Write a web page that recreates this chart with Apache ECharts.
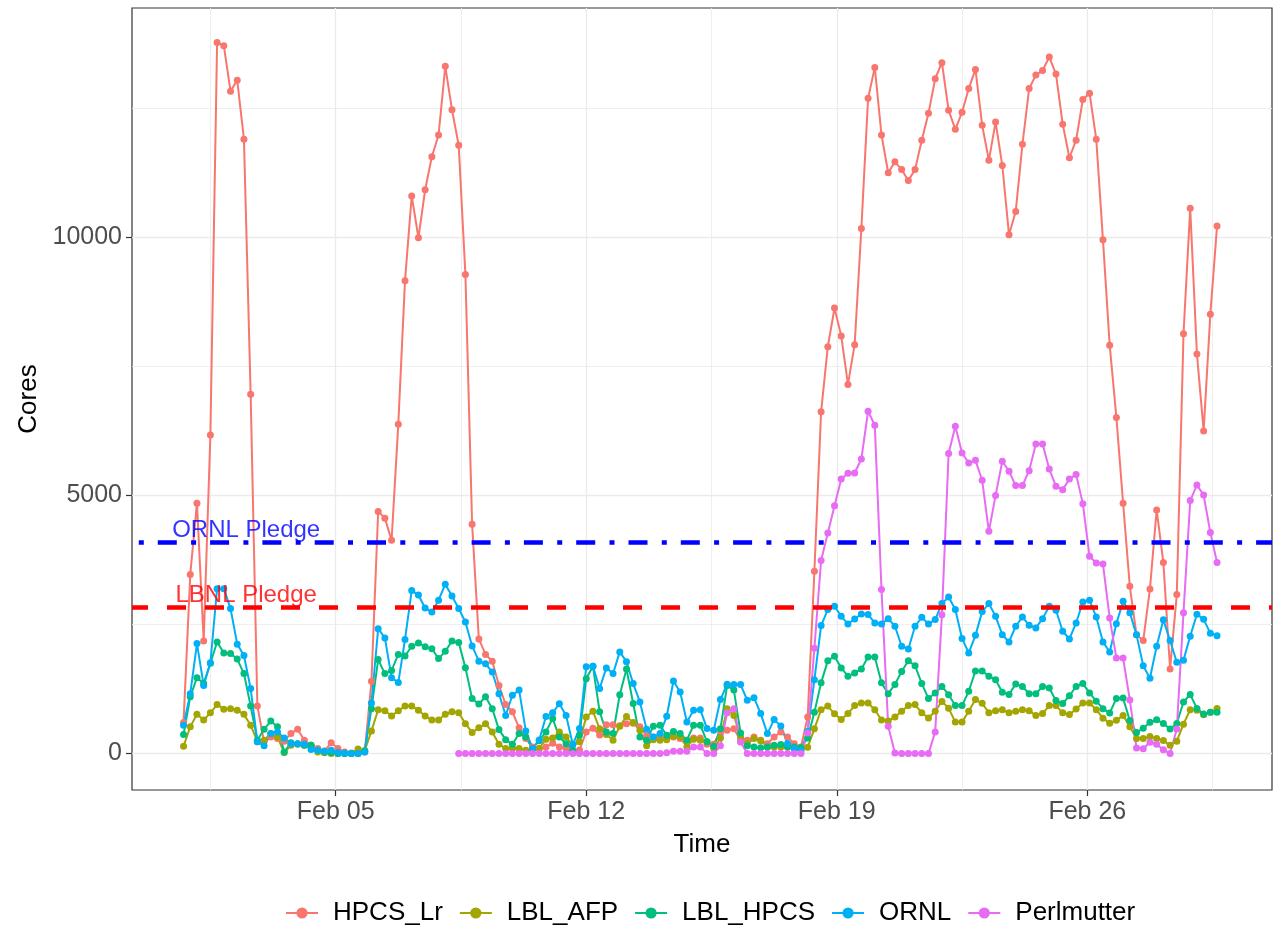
<!DOCTYPE html>
<html><head><meta charset="utf-8">
<script src="https://cdn.jsdelivr.net/npm/echarts@6/dist/echarts.min.js"></script>
<style>html,body{margin:0;padding:0;background:#fff}#c{width:1283px;height:927px}</style>
</head><body><div id="c"></div>
<script>
// time grid: day-of-February units (Feb 1 00:00 = 1), first sample Jan 31 18:00, every 4.5 h
const startDay = 0.75;
const stepHours = 4.5;
const nPoints = 155;
const majorDays = [5, 12, 19, 26];
const majorLabels = ['Feb 05', 'Feb 12', 'Feb 19', 'Feb 26'];
const minorDays = [1.5, 8.5, 15.5, 22.5, 29.5];
const yMajor = [0, 5000, 10000];
const yMinor = [2500, 7500, 12500];

const seriesNames = ['HPCS_Lr', 'LBL_AFP', 'LBL_HPCS', 'ORNL', 'Perlmutter'];

const HPCS_Lr = [600,3470,4850,2180,6170,13770,13710,12830,13040,11900,6960,920,230,320,290,240,390,470,260,160,
100,50,210,100,30,0,0,30,1400,4690,4560,4130,6380,9160,10800,9990,10920,11560,11980,13310,
12470,11780,9280,4440,2220,1920,1790,1320,950,810,500,290,130,100,130,200,130,100,30,70,
420,490,360,560,560,540,580,590,520,340,320,300,300,320,290,260,300,300,180,180,
440,450,480,260,260,320,260,190,320,420,320,190,130,710,3530,6620,7880,8630,8090,7150,
7920,10170,12690,13290,11980,11250,11460,11310,11100,11310,11880,12400,13070,13380,12460,12090,12420,12880,13250,12170,
11490,12230,11390,10050,10500,11800,12880,13140,13230,13490,13160,12190,11540,11880,12670,12790,11900,9950,7910,6510,
4850,3240,2300,2190,3190,4720,3700,1640,3080,8130,10560,7740,6250,8510,10220];

const LBL_AFP = [140,520,760,650,790,950,860,870,840,760,550,230,260,390,320,20,160,180,160,160,
30,15,0,0,0,10,90,60,440,850,830,730,830,920,920,840,730,650,650,760,
810,790,580,410,500,580,420,180,100,100,100,65,80,100,280,300,420,320,170,230,
710,820,480,370,260,530,720,600,450,150,270,260,270,340,320,130,280,260,230,100,
300,870,740,320,190,290,250,130,130,130,130,100,80,125,480,850,920,770,660,775,
930,980,980,850,650,630,710,820,930,950,790,690,820,1010,880,610,610,820,1046,975,
790,830,850,790,820,850,830,740,775,930,930,790,755,865,980,980,850,685,590,645,
740,520,290,290,330,290,255,160,240,570,850,840,750,800,875];

const LBL_HPCS = [370,1100,1470,1360,1750,2160,1950,1940,1830,1550,920,260,470,630,520,30,210,190,160,160,
65,30,20,0,0,0,0,50,870,1820,1550,1610,1920,1890,2080,2140,2070,2030,1840,1980,
2180,2150,1665,1065,960,1100,870,465,270,180,390,320,100,250,420,680,320,190,65,355,
1450,1690,810,420,390,1140,1640,970,320,260,530,550,355,430,390,260,550,550,230,140,
480,1320,1230,400,150,130,115,130,160,175,130,130,120,300,800,1370,1800,1885,1660,1500,
1560,1640,1870,1870,1370,1160,1340,1590,1800,1700,1360,1065,1175,1300,1140,930,930,1207,1600,1600,
1500,1430,1190,1143,1350,1300,1160,1160,1300,1270,1026,968,1120,1300,1356,1175,1015,870,785,1068,
1075,640,410,490,605,655,585,475,585,1000,1145,875,765,800,800];

const ORNL = [550,1160,2130,1320,1760,3195,3195,2810,2120,1900,1260,230,150,390,420,300,190,190,180,80,
65,45,65,20,13,0,0,30,980,2420,2240,1470,1375,2210,3160,3070,2820,2740,2970,3280,
3050,2810,2550,2085,1790,1740,1580,1160,740,1130,1230,440,100,265,720,790,965,740,175,485,
1680,1690,1260,1660,1550,1970,1780,1356,1000,470,323,387,723,1407,1194,613,840,850,484,452,
1046,1343,1336,1336,1033,1084,775,387,658,536,194,97,52,430,1430,2480,2790,2853,2659,2511,
2608,2705,2692,2530,2511,2614,2466,2078,2027,2466,2640,2511,2595,2905,3034,2789,2230,1949,2290,2750,
2905,2659,2304,2162,2466,2647,2485,2434,2614,2853,2776,2369,2220,2530,2937,2969,2647,2162,1969,2517,
2950,2730,2300,1700,1460,2080,2590,2190,1770,1810,2275,2700,2600,2333,2281];

const Perlmutter = [null,null,null,null,null,null,null,null,null,null,null,null,null,null,null,null,null,null,null,null,
null,null,null,null,null,null,null,null,null,null,null,null,null,null,null,null,null,null,null,null,
null,0,0,0,0,0,0,0,0,0,0,0,0,0,0,0,0,0,0,0,
0,0,0,0,0,0,0,0,0,0,0,0,15,45,45,45,130,130,0,0,
150,790,870,225,0,0,0,0,0,0,0,0,0,400,2040,3740,4270,4800,5320,5430,
5435,5706,6630,6360,3176,530,13,0,0,0,0,0,420,2690,5810,6340,5822,5629,5680,5293,
4305,5000,5661,5467,5190,5190,5480,5997,5997,5512,5177,5112,5319,5403,4841,3821,3690,3670,2627,1850,
1850,1040,110,95,220,180,75,0,475,2730,4900,5200,5008,4280,3700];

const ornlPledge = 4100;
const lbnlPledge = 2830;
const pledgeLabelDay = 2.5;

const colors = ['#F8766D', '#A3A500', '#00BF7D', '#00B0F6', '#E76BF3'];
const values = [HPCS_Lr, LBL_AFP, LBL_HPCS, ORNL, Perlmutter];
const times = [];
for (let i = 0; i < nPoints; i++) times.push(startDay + i * stepHours / 24);

const FONT = '"Liberation Sans", Arial, Helvetica, sans-serif';
const xMin = -0.69, xMax = 31.16, yMin = -705, yMax = 14440;

const series = seriesNames.map((name, k) => ({
  name: name,
  type: 'line',
  xAxisIndex: 0, yAxisIndex: 0,
  data: times.map((t, i) => values[k][i] == null ? null : [t, values[k][i]]).filter(d => d),
  symbol: 'circle', symbolSize: 7, showSymbol: true,
  lineStyle: { width: 2, color: colors[k] },
  itemStyle: { color: colors[k] },
  emphasis: { disabled: true },
  silent: true,
  z: 2
}));

series.push({
  name: 'pledges', type: 'line', data: [], xAxisIndex: 0, yAxisIndex: 0, silent: true, z: 5,
  markLine: {
    symbol: 'none', silent: true, animation: false, label: { show: false },
    data: [
      { yAxis: ornlPledge, lineStyle: { color: '#0000FF', width: 4.5, type: [5, 14, 19, 14.3], dashOffset: 45.5 } },
      { yAxis: lbnlPledge, lineStyle: { color: '#FF0000', width: 4.5, type: [19, 19], dashOffset: 3 } }
    ]
  }
});
series.push({
  name: 'pledgeLabels', type: 'scatter', xAxisIndex: 0, yAxisIndex: 0, symbolSize: 0, silent: true, z: 6,
  data: [
    { value: [pledgeLabelDay, ornlPledge], name: 'ORNL Pledge', label: { color: '#0000FF' } },
    { value: [pledgeLabelDay, lbnlPledge], name: 'LBNL Pledge', label: { color: '#FF0000' } }
  ],
  label: { show: true, position: 'top', distance: 0, fontSize: 24, fontFamily: FONT, formatter: p => p.name }
});

const axisCommonX = { type: 'value', min: xMin, max: xMax, axisLine: { show: false, onZero: false } };
const axisCommonY = { type: 'value', min: yMin, max: yMax, axisLine: { show: false, onZero: false } };

const option = {
  animation: false,
  textStyle: { fontFamily: FONT },
  grid: { left: 132, right: 11, top: 8, bottom: 137, show: true, borderColor: '#333333', borderWidth: 1.2, backgroundColor: 'transparent' },
  legend: {
    data: seriesNames, top: 895, left: 280, itemWidth: 32, itemHeight: 14, itemGap: 16,
    textStyle: { fontSize: 26, color: '#000', fontFamily: FONT, padding: [0, 0, 0, 10] }
  },
  xAxis: [
    Object.assign({}, axisCommonX, {
      name: 'Time', nameLocation: 'middle', nameGap: 42,
      nameTextStyle: { fontSize: 26, color: '#000', fontFamily: FONT },
      axisTick: { show: true, customValues: majorDays, length: 6, lineStyle: { color: '#333333', width: 1.2 } },
      axisLabel: { customValues: majorDays, fontSize: 25, color: '#4D4D4D', margin: 10,
        formatter: v => { const j = majorDays.indexOf(v); return j >= 0 ? majorLabels[j] : ''; } },
      splitLine: { show: true, lineStyle: { color: '#EBEBEB', width: 1.3 } }
    }),
    Object.assign({}, axisCommonX, {
      position: 'bottom',
      axisTick: { show: false, customValues: minorDays },
      axisLabel: { show: false, customValues: minorDays },
      splitLine: { show: true, lineStyle: { color: '#EBEBEB', width: 0.8 } }
    })
  ],
  yAxis: [
    Object.assign({}, axisCommonY, {
      name: 'Cores', nameLocation: 'middle', nameGap: 84, nameRotate: 90,
      nameTextStyle: { fontSize: 26, color: '#000', fontFamily: FONT },
      axisTick: { show: true, customValues: yMajor, length: 6, lineStyle: { color: '#333333', width: 1.2 } },
      axisLabel: { customValues: yMajor, fontSize: 25, color: '#4D4D4D', margin: 10, formatter: v => String(v) },
      splitLine: { show: true, lineStyle: { color: '#EBEBEB', width: 1.3 } }
    }),
    Object.assign({}, axisCommonY, {
      position: 'left',
      axisTick: { show: false, customValues: yMinor },
      axisLabel: { show: false, customValues: yMinor },
      splitLine: { show: true, lineStyle: { color: '#EBEBEB', width: 0.8 } }
    })
  ],
  series: series
};

const chart = echarts.init(document.getElementById('c'), null, { renderer: 'canvas' });
chart.setOption(option);
</script>
</body></html>
